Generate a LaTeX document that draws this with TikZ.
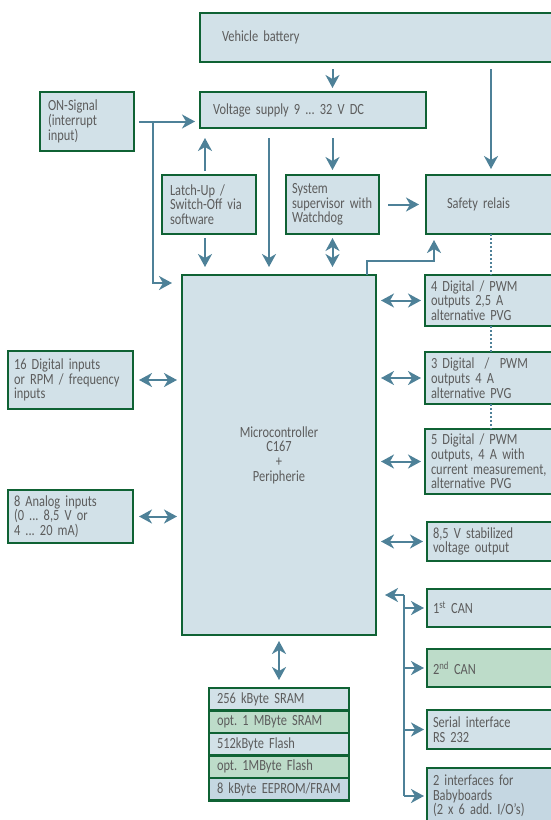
\documentclass[tikz,border=0pt]{standalone}
\usepackage{fontspec}
\setmainfont{Carlito}[FakeStretch=0.8, WordSpace=0.85]
\frenchspacing
\usetikzlibrary{arrows.meta, calc}
\definecolor{boxfill}{HTML}{D2E1E8}
\definecolor{boxgreen}{HTML}{BDDCC9}
\definecolor{boxdeep}{HTML}{C5D7E2}
\definecolor{rim}{HTML}{0F6234}
\definecolor{wireblue}{HTML}{4E8198}
\definecolor{ink}{HTML}{5C5C5C}

\tikzset{
  blk/.style={draw=rim, fill=boxfill, line width=2.2pt, rectangle, anchor=north west,
    align=left, inner ysep=0pt, outer sep=0pt, text=ink, font=\fontsize{15.5}{14.7}\selectfont},
  memblk/.style={blk, text width=124pt, inner xsep=8pt, minimum height=22.5pt},
  outblk/.style={blk, text width=140pt, inner xsep=6pt},
  link/.style={draw=wireblue, line width=2pt},
  arr/.style={link, -{Stealth[length=13pt, width=14pt, inset=4pt]}, shorten <=5pt, shorten >=5pt},
  darr/.style={link, {Stealth[length=13pt, width=14pt, inset=4pt]}-{Stealth[length=13pt, width=14pt, inset=4pt]},
    shorten <=5pt, shorten >=5pt},
  dots/.style={link, dash pattern=on 2pt off 2pt},
}

\begin{document}
\begin{tikzpicture}[x=1pt, y=-1pt]
\useasboundingbox (0,0) rectangle (550,820);

% supply part
\node[blk, text width=312pt, inner xsep=22pt, minimum height=49pt] (vbat) at (200,13) {Vehicle battery};
\node[blk, text width=78pt, inner xsep=8pt, minimum height=59pt] (on) at (40,92) {ON-Signal\\(interrupt\\input)};
\node[blk, text width=200pt, inner xsep=13pt, minimum height=36pt] (volt) at (200,92) {Voltage supply 9 ... 32 V DC};
\node[blk, text width=78pt, inner xsep=8pt, minimum height=59pt] (latch) at (162,175) {Latch-Up /\\Switch-Off via\\software};
\node[blk, text width=81pt, inner xsep=6pt, minimum height=59pt] (sup) at (286,175) {System\\supervisor with\\Watchdog};
\node[blk, text width=88pt, inner xsep=21pt, minimum height=59pt] (safe) at (426,175) {Safety relais};

% controller
\node[blk, align=center, text width=180pt, inner xsep=7pt, minimum height=360pt] (micro) at (182,275)
  {Microcontroller\\C167\\+\\Peripherie};

% inputs
\node[blk, text width=113pt, inner xsep=6pt, minimum height=58pt] (dig16) at (8,351) {16 Digital inputs\\or RPM / frequency\\inputs};
\node[blk, text width=113pt, inner xsep=6pt, minimum height=53pt] (ana) at (8,490) {8 Analog inputs\\(0 ... 8,5 V or\\4 ... 20 mA)};

% outputs
\node[outblk, minimum height=51pt] (pwmA) at (425,275) {4 Digital / PWM\\outputs 2,5 A\\alternative PVG};
\node[outblk, minimum height=52pt] (pwmB) at (425,352) {3 Digital~~/~~PWM\\outputs 4 A\\alternative PVG};
\node[outblk, minimum height=65pt] (pwmC) at (425,429) {5 Digital / PWM\\outputs, 4 A with\\current measurement,\\alternative PVG};
\node[outblk, minimum height=39pt] (vout) at (427,522) {8,5 V stabilized\\voltage output};

% interfaces
\node[outblk, minimum height=38pt] (can1) at (427,589) {1\textsuperscript{st} CAN};
\node[outblk, fill=boxgreen, minimum height=38pt] (can2) at (427,649) {2\textsuperscript{nd} CAN};
\node[outblk, minimum height=39pt] (ser) at (427,710) {Serial interface\\RS 232};
\node[outblk, fill=boxdeep, minimum height=56pt] (baby) at (427,768) {2 interfaces for\\Babyboards\\(2 x 6 add. I/O’s)};

% memory
\node[memblk] (mem1) at (209,688) {256 kByte SRAM};
\node[memblk, fill=boxgreen] (mem2) at (209,710.5) {opt. 1 MByte SRAM};
\node[memblk] (mem3) at (209,733) {512kByte Flash};
\node[memblk, fill=boxgreen] (mem4) at (209,755.5) {opt. 1MByte Flash};
\node[memblk, fill=boxdeep] (mem5) at (209,778) {8 kByte EEPROM/FRAM};

% supply arrows
\draw[arr, shorten <=7pt, shorten >=4pt] (vbat.south -| sup.north) -- (volt.north -| sup.north);
\draw[arr, shorten <=7pt, shorten >=6pt] (vbat.south -| safe.north) -- (safe.north);
\draw[arr] (on.east) -- (on.east -| volt.west);
\draw[arr, shorten <=0pt, shorten >=10pt] ($(on.east)+(19,0)$) |- (micro.west |- 0,283);
\draw[arr, shorten <=4pt, shorten >=10pt] ([xshift=-4pt]latch.north) -- ([xshift=-4pt]latch.north |- volt.south);
\draw[arr, shorten <=4pt, shorten >=8pt] ([xshift=-4pt]latch.south) -- ([xshift=-4pt]latch.south |- micro.north);
\draw[arr, shorten <=10pt, shorten >=8pt] (volt.south -| 269,0) -- (micro.north -| 269,0);
\draw[arr, shorten <=10pt, shorten >=5pt] (volt.south -| sup.north) -- (sup.north);
\draw[arr, shorten <=9pt, shorten >=7pt] (sup.east) -- (sup.east -| safe.west);
\draw[darr, shorten <=4pt, shorten >=8pt] (sup.south) -- (sup.south |- micro.north);
\draw[arr, shorten <=0pt, shorten >=6pt] (micro.north -| 367,0) |- (434,261) -- (safe.south -| 434,0);

% dotted relais line
\draw[dots] (safe.south) -- (safe.south |- pwmA.north);
\draw[dots] (safe.south |- pwmA.south) -- (safe.south |- pwmB.north);
\draw[dots] (safe.south |- pwmB.south) -- (safe.south |- pwmC.north);

% in/out arrows
\draw[darr, shorten <=6pt] (dig16.east) -- (dig16.east -| micro.west);
\draw[darr, shorten <=6pt] (ana.east) -- (ana.east -| micro.west);
\draw[darr, shorten >=4pt] (pwmA.west -| micro.east) -- (pwmA.west);
\draw[darr, shorten >=4pt] (pwmB.west -| micro.east) -- (pwmB.west);
\draw[darr, shorten >=4pt] (pwmC.west -| micro.east) -- (pwmC.west);
\draw[darr, shorten >=4pt] (vout.west -| micro.east) -- (vout.west);
\draw[darr, shorten <=6pt, shorten >=8pt] (micro.south) -- (mem1.north);

% bus
\coordinate (bustop) at (404,595);
\draw[link] (bustop) -- (bustop |- baby.west);
\draw[arr, shorten <=0pt, shorten >=9pt] (bustop) -- (bustop -| micro.east);
\draw[arr, shorten <=0pt, shorten >=3pt] (bustop |- can1.west) -- (can1.west);
\draw[arr, shorten <=0pt, shorten >=3pt] (bustop |- can2.west) -- (can2.west);
\draw[arr, shorten <=0pt, shorten >=3pt] (bustop |- ser.west) -- (ser.west);
\draw[arr, shorten <=0pt, shorten >=3pt] (bustop |- baby.west) -- (baby.west);
\end{tikzpicture}
\end{document}
